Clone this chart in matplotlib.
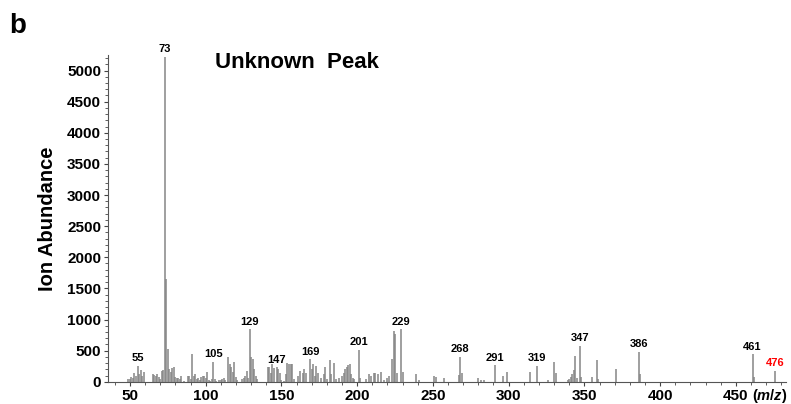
import matplotlib
matplotlib.use("Agg")
import matplotlib.pyplot as plt
from matplotlib.ticker import MultipleLocator

plt.rcParams['font.family'] = ['Liberation Sans', 'DejaVu Sans']
plt.rcParams['font.weight'] = 'bold'
plt.rcParams['mathtext.fontset'] = 'custom'
plt.rcParams['mathtext.rm'] = 'Liberation Sans:bold'
plt.rcParams['mathtext.it'] = 'Liberation Sans:italic:bold'

# ---- data (m/z, abundance) ----
mz = [49, 50, 51, 52, 53, 54, 55, 56, 57, 58, 59,
      65, 66, 67, 68, 69, 70, 71, 72, 73, 74, 75, 76, 77, 78, 79, 80, 81, 82, 83, 84,
      86, 88, 89, 90, 91, 92, 93, 94, 95, 96, 97, 98, 99, 100, 101, 102, 103, 104, 105, 106,
      107, 109, 110, 111, 112, 113,
      115, 116, 117, 118, 119, 120, 121, 124, 125, 126, 127, 128, 129, 130, 131, 132, 133, 134,
      141, 142, 143, 144, 145, 147, 148, 149, 150, 152, 153, 154, 155, 156, 157, 158,
      161, 162, 164, 165, 166, 169, 170, 171, 172, 173, 174,
      176, 178, 179, 180, 182, 183, 185, 186, 188, 190, 191, 192, 193, 194, 195, 196, 197, 198,
      201, 202, 206, 208, 209, 211, 212, 214, 216, 218, 220, 221, 223, 224, 225, 226, 229, 230,
      239, 241, 251, 252, 257, 267, 268, 269, 280, 282, 284, 291, 296, 299, 314, 319,
      326, 330, 331, 339, 340, 341, 342, 343, 344, 345, 347, 348, 355, 358, 359, 371,
      386, 387, 461, 462, 476]
abund = [38, 45, 80, 60, 145, 100, 255, 130, 195, 90, 160,
         118, 107, 90, 118, 80, 48, 180, 190, 5220, 1650, 530, 210, 160, 225, 240, 80, 65, 55, 40, 100,
         20, 90, 100, 40, 450, 90, 120, 50, 60, 30, 75, 90, 100, 60, 155, 30, 20, 40, 320, 40,
         20, 35, 25, 50, 55, 30,
         400, 280, 240, 160, 320, 75, 30, 50, 60, 90, 170, 60, 843, 400, 360, 210, 90, 50,
         240, 240, 145, 280, 225, 230, 210, 145, 30, 20, 120, 295, 280, 280, 290, 40,
         91, 172, 145, 200, 145, 360, 200, 280, 91, 250, 145,
         60, 120, 240, 40, 344, 120, 295, 40, 60, 90, 145, 200, 240, 263, 280, 120, 65, 40,
         510, 65, 50, 120, 90, 135, 135, 130, 155, 35, 65, 90, 360, 816, 762, 145, 843, 155,
         120, 25, 100, 75, 65, 107, 400, 145, 55, 30, 30, 263, 90, 155, 160, 252,
         25, 322, 135, 25, 45, 80, 120, 190, 413, 65, 575, 70, 75, 350, 50, 210,
         478, 118, 440, 80, 172]

labeled = [55, 73, 105, 129, 147, 169, 201, 229, 268, 291, 319, 347, 386, 461, 476]
label_colors = ['black'] * 14 + ['red']

xticks = [50, 100, 150, 200, 250, 300, 350, 400, 450]
yticks = [0, 500, 1000, 1500, 2000, 2500, 3000, 3500, 4000, 4500, 5000]

fig = plt.figure(figsize=(7.91, 4.04), dpi=100)
ax = fig.add_axes([0.1365, 0.055, 0.857, 0.809])

ax.vlines(mz, 0, abund, color='#858585', linewidth=1.1)

lookup = dict(zip(mz, abund))
for m, c in zip(labeled, label_colors):
    ax.annotate(str(m), xy=(m, lookup[m]), xytext=(0, 2), textcoords='offset points',
                ha='center', va='bottom', fontsize=8, fontweight='bold', color=c,
                annotation_clip=False)

ax.set_xlim(35.5, 483)
ax.set_ylim(0, 5250)
ax.set_xticks(xticks)
ax.set_yticks(yticks)
ax.xaxis.set_minor_locator(MultipleLocator(10))
ax.yaxis.set_minor_locator(MultipleLocator(100))
ax.tick_params(axis='both', which='major', direction='out', length=3, width=0.8,
               labelsize=11, pad=2, color='#444444')
ax.tick_params(axis='both', which='minor', direction='out', length=2, width=0.6, color='#444444')
for t in ax.get_xticklabels() + ax.get_yticklabels():
    t.set_fontweight('bold')

for s in ['top', 'right']:
    ax.spines[s].set_visible(False)
for s in ['left', 'bottom']:
    ax.spines[s].set_color('#555555')
    ax.spines[s].set_linewidth(0.8)

ax.set_ylabel('Ion Abundance', fontsize=14.5, fontweight='bold', labelpad=7)

ax.annotate(r'($\mathit{m/z}$)', xy=(472.5, 0), xycoords=('data', 'axes fraction'),
            xytext=(0, -4), textcoords='offset points', ha='center', va='top',
            fontsize=10.5, fontweight='bold', annotation_clip=False)

fig.text(0.272, 0.832, 'Unknown  Peak', fontsize=16, fontweight='bold', va='baseline', ha='left')
fig.text(0.012, 0.918, 'b', fontsize=20, fontweight='bold', va='baseline', ha='left')

fig.savefig('out.png', dpi=100)
